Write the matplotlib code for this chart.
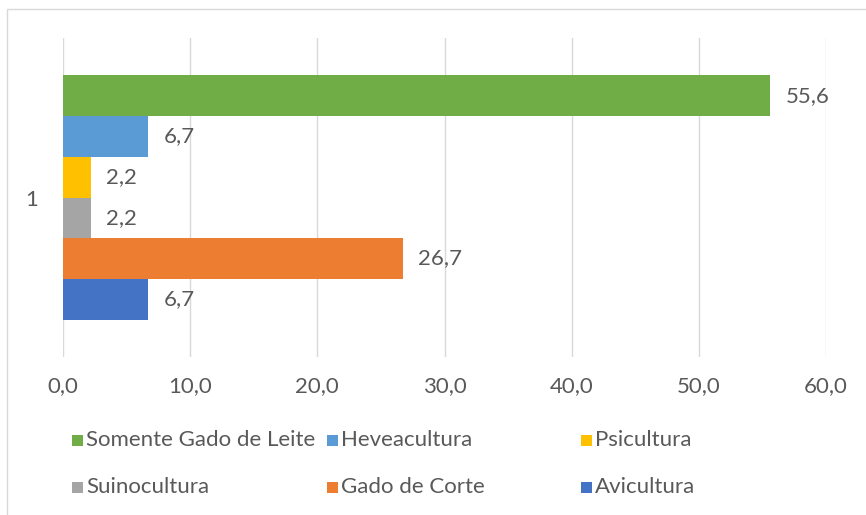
import matplotlib
matplotlib.use("Agg")
import matplotlib.pyplot as plt
from matplotlib.patches import Rectangle

plt.rcParams['font.family'] = ['Lato', 'DejaVu Sans']

categories = ["1"]
series_names = ["Avicultura", "Gado de Corte", "Suinocultura", "Psicultura",
                "Heveacultura", "Somente Gado de Leite"]
series_values = [6.7, 26.7, 2.2, 2.2, 6.7, 55.6]
series_colors = ["#4472C4", "#ED7D31", "#A5A5A5", "#FFC000", "#5B9BD5", "#70AD47"]
x_ticks = [0, 10, 20, 30, 40, 50, 60]

legend_order = ["Somente Gado de Leite", "Heveacultura", "Psicultura",
                "Suinocultura", "Gado de Corte", "Avicultura"]

W, H = 866, 515
fig = plt.figure(figsize=(W / 100, H / 100), dpi=100)
text_color = "#595959"
fs = 16

# chart border (cropped on the right/bottom)
fig.patches.append(Rectangle((6.5 / W, -0.1), 2.0, (H - 9.5) / H + 0.1,
                             transform=fig.transFigure, fill=False,
                             edgecolor="#D9D9D9", linewidth=1.0))

ax = fig.add_axes([63 / W, (H - 357) / H, (826 - 63) / W, (357 - 38) / H])
n = len(series_names)
h = 0.1275
for i, (name, val, col) in enumerate(zip(series_names, series_values, series_colors)):
    y = (i - (n - 1) / 2) * h
    ax.barh(y, val, height=h, color=col, zorder=3)
    ax.annotate(f"{val:.1f}".replace(".", ","), xy=(val, y), xytext=(11, 0),
                textcoords="offset points", va="center", ha="left",
                fontsize=fs, color=text_color)

ax.set_xlim(0, 60)
ax.set_ylim(-0.5, 0.5)
ax.set_xticks(x_ticks)
ax.set_xticklabels([f"{t:.1f}".replace(".", ",") for t in x_ticks],
                   fontsize=fs, color=text_color)
ax.set_yticks([0])
ax.set_yticklabels(categories, fontsize=fs, color=text_color)
ax.tick_params(axis="x", length=0, pad=14)
ax.tick_params(axis="y", length=0, pad=18)
ax.grid(axis="x", color="#D9D9D9", linewidth=1.0, zorder=0)
for s in ax.spines.values():
    s.set_visible(False)

# legend (3 columns x 2 rows)
col_x = [72, 327, 581]
row_y = [440, 487]
color_of = dict(zip(series_names, series_colors))
for k, name in enumerate(legend_order):
    r, c = divmod(k, 3)
    x0, y0 = col_x[c], row_y[r]
    fig.patches.append(Rectangle((x0 / W, (H - y0 - 5.5) / H), 11 / W, 11 / H,
                                 transform=fig.transFigure,
                                 facecolor=color_of[name], edgecolor="none"))
    fig.text((x0 + 14) / W, (H - y0) / H, name, fontsize=fs, color=text_color,
             va="center", ha="left")

fig.savefig("out.png", dpi=100)
